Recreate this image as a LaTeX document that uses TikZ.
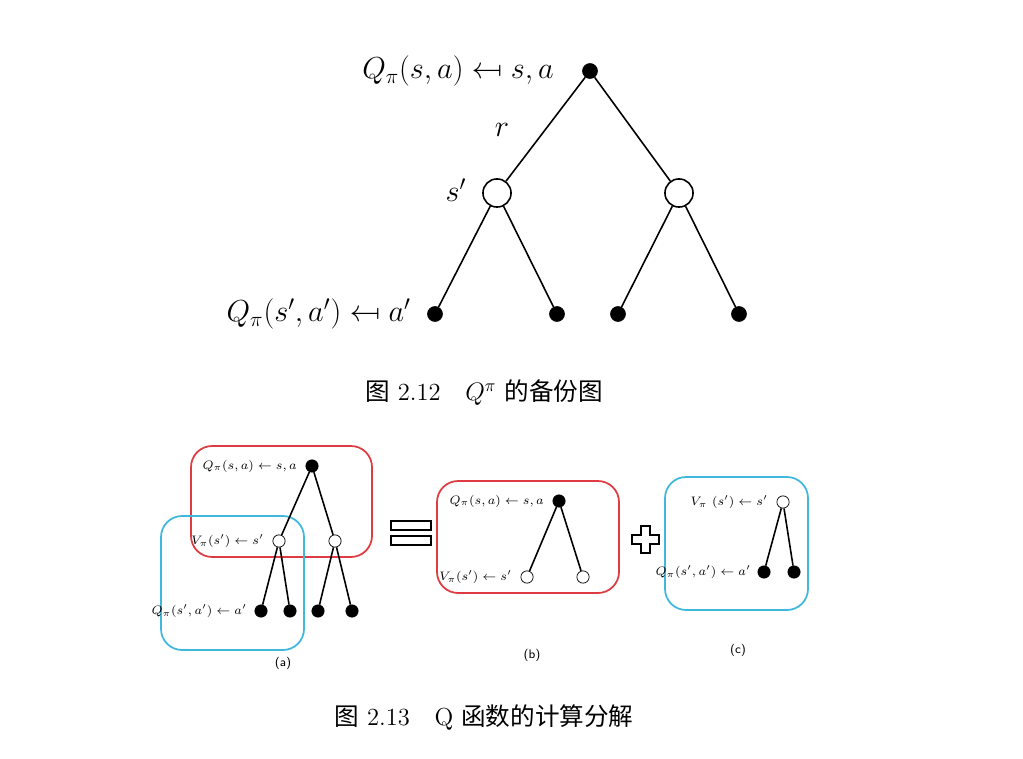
\documentclass[tikz,border=0pt]{standalone}
\usepackage{fontspec}
\usepackage{graphicx}
\newfontfamily\cjk{Noto Sans CJK SC}
\definecolor{boxred}{RGB}{222,60,66}
\definecolor{boxblue}{RGB}{64,184,222}
\tikzset{
	full/.style={circle, fill=black, draw, inner sep=0pt, minimum size=#1},
	hollow/.style={circle, draw, fill=white, inner sep=0pt, minimum size=#1},
	big/.style={font=\fontsize{16.5}{19}\selectfont},
	small/.style={font=\fontsize{7.5}{9}\selectfont},
	biglab/.style={big, anchor=east},
	smalllab/.style={small, anchor=east},
	frame/.style={draw, line width=1pt, rounded corners=12pt},
	edge/.style={line width=0.9pt},
}
\newcommand{\mapfrom}{\mathrel{\reflectbox{$\mapsto$}}}
\begin{document}
\begin{tikzpicture}[x=0.02cm,y=-0.02cm]
	\useasboundingbox (0,0) rectangle (1023,759);
	
	% ------------------- top tree -------------------
	\node[full=8.5pt] (r) at (590,71) {};
	\node[hollow=16pt, line width=0.9pt] (s1) at (497,193) {};
	\node[hollow=16pt, line width=0.9pt] (s2) at (679,193) {};
	\node[full=8.5pt] (l1) at (435,314) {};
	\node[full=8.5pt] (l2) at (557,314) {};
	\node[full=8.5pt] (l3) at (618,314) {};
	\node[full=8.5pt] (l4) at (739,314) {};
	\draw[edge] (r) -- (s1);
	\draw[edge] (r) -- (s2);
	\draw[edge] (s1) -- (l1);
	\draw[edge] (s1) -- (l2);
	\draw[edge] (s2) -- (l3);
	\draw[edge] (s2) -- (l4);
	
	\node[biglab] (labR) at (560,71) {$Q_\pi(s,a) \mapfrom s,a$};
	\node[big] (labr) at (502,130) {$r$};
	\node[big] (labs) at (456,190) {$s'$};
	\node[biglab] (labL) at (417,314) {$Q_\pi(s',a') \mapfrom a'$};
	
	\node[font=\fontsize{14}{16}\selectfont] (cap1) at (484,393) {{\cjk 图} 2.12\quad $Q^\pi$ {\cjk 的备份图}};
	
	% ------------------- (a) -------------------
	\draw[frame, boxred] (191,446) rectangle (372,557);
	\draw[frame, boxblue] (161,516) rectangle (304,650);
	\node[full=7pt] (ar) at (312,466) {};
	\node[hollow=7pt] (as1) at (279,541) {};
	\node[hollow=7pt] (as2) at (335,541) {};
	\node[full=7pt] (al1) at (261,611) {};
	\node[full=7pt] (al2) at (290,611) {};
	\node[full=7pt] (al3) at (318,611) {};
	\node[full=7pt] (al4) at (352,611) {};
	\draw[edge] (ar) -- (as1);
	\draw[edge] (ar) -- (as2);
	\draw[edge] (as1) -- (al1);
	\draw[edge] (as1) -- (al2);
	\draw[edge] (as2) -- (al3);
	\draw[edge] (as2) -- (al4);
	\node[smalllab] (laR) at (303,466) {$Q_\pi(s,a) \leftarrow s,a$};
	\node[smalllab] (laS) at (270,541) {$V_\pi(s') \leftarrow s'$};
	\node[smalllab] (laL) at (253,611) {$Q_\pi(s',a') \leftarrow a'$};
	\node[font=\sffamily\scriptsize] (capa) at (283,663) {(a)};
	
	% equals sign
	\draw[line width=1.2pt] (391,521) rectangle (431,530);
	\draw[line width=1.2pt] (391,536) rectangle (431,545);
	
	% ------------------- (b) -------------------
	\draw[frame, boxred] (437,481) rectangle (619,593);
	\node[full=7pt] (br) at (559,501) {};
	\node[hollow=7pt] (bs1) at (527,577) {};
	\node[hollow=7pt] (bs2) at (583,577) {};
	\draw[edge] (br) -- (bs1);
	\draw[edge] (br) -- (bs2);
	\node[smalllab] (lbR) at (550,501) {$Q_\pi(s,a) \leftarrow s,a$};
	\node[smalllab] (lbS) at (518,577) {$V_\pi(s') \leftarrow s'$};
	\node[font=\sffamily\scriptsize] (capb) at (532,655) {(b)};
	
	% plus sign
	\draw[line width=1.2pt] (641,526) -- (650,526) -- (650,535) -- (659,535) -- (659,544)
		-- (650,544) -- (650,553) -- (641,553) -- (641,544) -- (632,544) -- (632,535)
		-- (641,535) -- cycle;
	
	% ------------------- (c) -------------------
	\draw[frame, boxblue] (665,477) rectangle (808,610);
	\node[hollow=7pt] (cr) at (783,502) {};
	\node[full=7pt] (cl1) at (764,572) {};
	\node[full=7pt] (cl2) at (794,572) {};
	\draw[edge] (cr) -- (cl1);
	\draw[edge] (cr) -- (cl2);
	\node[smalllab] (lcR) at (774,502) {$V_\pi\ (s') \leftarrow s'$};
	\node[smalllab] (lcL) at (757,572) {$Q_\pi(s',a') \leftarrow a'$};
	\node[font=\sffamily\scriptsize] (capc) at (738,650) {(c)};
	
	\node[font=\fontsize{14}{16}\selectfont] (cap2) at (484,717) {{\cjk 图} 2.13\quad Q {\cjk 函数的计算分解}};
\end{tikzpicture}
\end{document}
